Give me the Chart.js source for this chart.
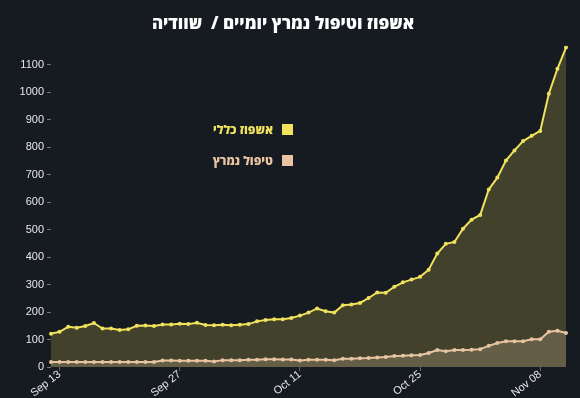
<!DOCTYPE html>
<html>
<head>
<meta charset="utf-8">
<script src="https://cdn.jsdelivr.net/npm/chart.js@4/dist/chart.umd.min.js"></script>
<style>
  html, body { margin: 0; padding: 0; background: #161a21; }
  #wrap { position: relative; width: 580px; height: 398px; }
  #legend { position: absolute; left: 180px; top: 121px; width: 113px; font-family: "Open Sans", "DejaVu Sans", sans-serif; font-weight: 800; font-size: 12px; direction: rtl; }
  #legend div { display: flex; align-items: center; height: 17px; margin-bottom: 14px; }
  #legend span.box { width: 11px; height: 11px; margin-left: 9px; flex: none; }
</style>
</head>
<body>
<div id="wrap">
  <canvas id="myChart" width="580" height="398"></canvas>
  <div id="legend"></div>
</div>
<script>
const dayLabels = ['Sep 12', 'Sep 13', 'Sep 14', 'Sep 15', 'Sep 16', 'Sep 17', 'Sep 18', 'Sep 19', 'Sep 20', 'Sep 21',
    'Sep 22', 'Sep 23', 'Sep 24', 'Sep 25', 'Sep 26', 'Sep 27', 'Sep 28', 'Sep 29', 'Sep 30',
    'Oct 01', 'Oct 02', 'Oct 03', 'Oct 04', 'Oct 05', 'Oct 06', 'Oct 07', 'Oct 08', 'Oct 09', 'Oct 10',
    'Oct 11', 'Oct 12', 'Oct 13', 'Oct 14', 'Oct 15', 'Oct 16', 'Oct 17', 'Oct 18', 'Oct 19', 'Oct 20',
    'Oct 21', 'Oct 22', 'Oct 23', 'Oct 24', 'Oct 25', 'Oct 26', 'Oct 27', 'Oct 28', 'Oct 29', 'Oct 30', 'Oct 31',
    'Nov 01', 'Nov 02', 'Nov 03', 'Nov 04', 'Nov 05', 'Nov 06', 'Nov 07', 'Nov 08', 'Nov 09', 'Nov 10', 'Nov 11'];
const shownTicks = ['Sep 13', 'Sep 27', 'Oct 11', 'Oct 25', 'Nov 08'];

const hospitalTotal = [121, 128, 146, 143, 149, 160, 140, 140, 135, 137,
    150, 151, 149, 155, 155, 157, 156, 161, 153, 152,
    154, 152, 154, 156, 166, 171, 174, 174, 178, 187,
    198, 213, 203, 198, 225, 227, 233, 251, 271, 270,
    292, 308, 318, 328, 354, 413, 448, 455, 503, 536,
    553, 646, 689, 751, 788, 822, 841, 859, 994, 1085, 1162];
const intensiveCare = [18, 18, 18, 18, 18, 18, 18, 18, 18, 18,
    18, 18, 18, 24, 24, 23, 23, 23, 23, 20,
    25, 25, 25, 26, 26, 28, 28, 27, 27, 24,
    26, 26, 26, 25, 30, 30, 32, 33, 35, 36,
    40, 41, 43, 44, 51, 62, 57, 62, 62, 63,
    65, 77, 87, 94, 94, 94, 101, 101, 128, 132, 124];

const seriesNames = ['אשפוז כללי', 'טיפול נמרץ'];
const seriesColors = ['rgb(240, 226, 92)', 'rgb(232, 196, 162)'];

const ctx = document.getElementById('myChart').getContext('2d');
const myChart = new Chart(ctx, {
    type: 'line',
    data: {
        labels: dayLabels,
        datasets: [{
            label: seriesNames[0],
            data: hospitalTotal,
            borderColor: seriesColors[0],
            backgroundColor: 'rgba(240, 226, 92, 0.2)',
            pointBackgroundColor: seriesColors[0],
            fill: 'origin',
            order: 2
        },
        {
            label: seriesNames[1],
            data: intensiveCare,
            borderColor: seriesColors[1],
            backgroundColor: 'rgba(232, 196, 162, 0.22)',
            pointBackgroundColor: seriesColors[1],
            fill: 'origin',
            order: 1
        }]
    },
    options: {
        responsive: false,
        animation: false,
        layout: {
            padding: { left: 0, right: 14, top: 0, bottom: 0 }
        },
        elements: {
            line: { borderWidth: 2, tension: 0 },
            point: { radius: 2, borderWidth: 0, hoverRadius: 3 }
        },
        plugins: {
            legend: { display: false },
            tooltip: { enabled: false },
            title: {
                display: true,
                text: 'אשפוז וטיפול נמרץ יומיים /  שוודיה',
                color: '#ffffff',
                font: { family: '"Open Sans", "DejaVu Sans", sans-serif', size: 17, weight: '800' },
                padding: { top: 14, bottom: 11 }
            }
        },
        scales: {
            x: {
                grid: { drawOnChartArea: false, color: '#666', tickLength: 4 },
                border: { display: false },
                ticks: {
                    autoSkip: false,
                    minRotation: 38,
                    maxRotation: 38,
                    color: '#e6e6e6',
                    padding: -3,
                    font: { family: '"Liberation Sans", Arial, sans-serif', size: 11 },
                    callback: function (value) {
                        const lbl = this.getLabelForValue(value);
                        return shownTicks.includes(lbl) ? lbl : null;
                    }
                },
                afterFit: s => { s.height = 31; }
            },
            y: {
                min: 0,
                max: 1170,
                grid: { drawOnChartArea: false, color: '#777', tickLength: 4 },
                border: { display: false },
                ticks: {
                    stepSize: 100,
                    includeBounds: false,
                    color: '#e6e6e6',
                    padding: 3,
                    font: { family: '"Liberation Sans", Arial, sans-serif', size: 11 },
                    callback: v => String(v)
                },
                afterFit: s => { s.width = 51; }
            }
        }
    }
});

// legend drawn as html, box on the right of the text
const legendEl = document.getElementById('legend');
seriesNames.forEach((name, i) => {
    const row = document.createElement('div');
    row.innerHTML = '<span class="box" style="background:' + seriesColors[i] + '"></span><span style="color:' + seriesColors[i] + '">' + name + '</span>';
    legendEl.appendChild(row);
});
</script>
</body>
</html>
